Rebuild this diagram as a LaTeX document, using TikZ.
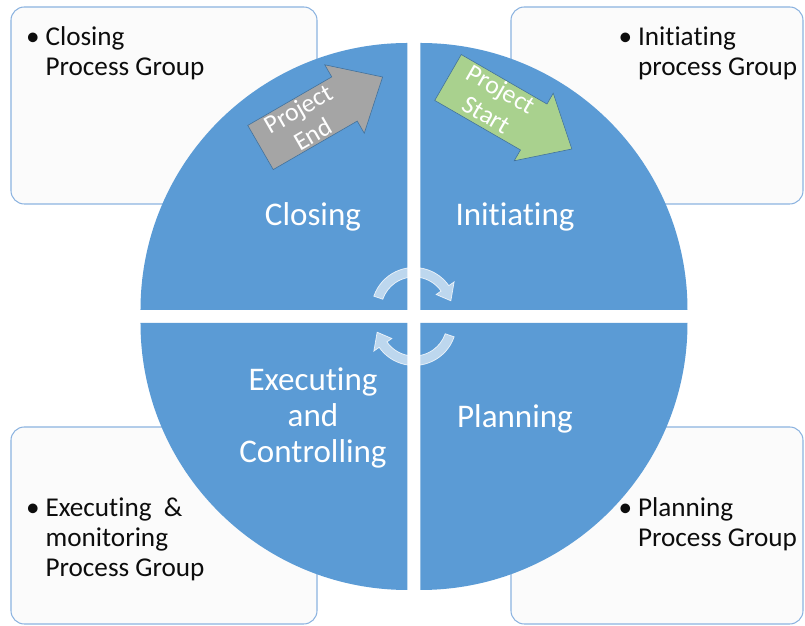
\documentclass[tikz,border=0pt]{standalone}
\usepackage{fontspec}
\setmainfont{Carlito}[Ligatures={NoCommon}]
\usepackage{xcolor}
\definecolor{phaseblue}{HTML}{5B9BD5}
\definecolor{boxline}{HTML}{8CB3E0}
\definecolor{boxfill}{HTML}{FBFBFB}
\definecolor{endgray}{HTML}{A5A5A5}
\definecolor{startgreen}{HTML}{A9D18E}
\definecolor{arrowline}{HTML}{41719C}
\definecolor{textblack}{HTML}{0D0D0D}

\tikzset{
  groupbox/.style={draw=boxline, fill=boxfill, line width=0.9pt, rounded corners=0.4cm, inner sep=0},
  grouptext/.style={anchor=base west, inner sep=0, text=textblack, font=\fontsize{23.2}{25.6}\selectfont},
  phase/.style={fill=phaseblue},
  phasetext/.style={align=center, inner sep=0, text=white, font=\fontsize{28.2}{30.7}\selectfont},
  milestone/.style={draw=arrowline, line width=0.5pt},
  milestonetext/.style={align=center, inner sep=0, text=white, transform shape, font=\fontsize{22}{25}\selectfont},
  cyclearrow/.style={fill=white, fill opacity=0.6, draw=white, draw opacity=0.8, line width=0.6pt}
}

\begin{document}
\begin{tikzpicture}[x=0.03cm, y=0.03cm]
    \useasboundingbox (-414,-309.5) rectangle (391,316.5);

    % process group boxes behind the wheel
    \node[groupbox, minimum width=9.18cm, minimum height=5.91cm] (closingbox) at (-250,211) {};
    \node[groupbox, minimum width=8.76cm, minimum height=5.91cm] (initbox) at (243,211) {};
    \node[groupbox, minimum width=9.18cm, minimum height=5.91cm] (execbox) at (-250,-209) {};
    \node[groupbox, minimum width=8.76cm, minimum height=5.91cm] (planbox) at (243,-209) {};

    \node[grouptext] (closinggroup) at (-388,270.5) {\begin{tabular}[t]{@{}p{16.5pt}@{}l@{}}\textbullet & Closing\\ & Process Group\end{tabular}};
    \node[grouptext] (initgroup) at (204.5,270.5) {\begin{tabular}[t]{@{}p{16.5pt}@{}l@{}}\textbullet & Initiating\\ & process Group\end{tabular}};
    \node[grouptext] (execgroup) at (-388,-200) {\begin{tabular}[t]{@{}p{16.5pt}@{}l@{}}\textbullet & Executing~~\&\\ & monitoring\\ & Process Group\end{tabular}};
    \node[grouptext] (plangroup) at (204.5,-200) {\begin{tabular}[t]{@{}p{16.5pt}@{}l@{}}\textbullet & Planning\\ & Process Group\end{tabular}};

    % the four quarters of the wheel
    \foreach \sx/\sy/\a in {1/1/0, -1/1/90, -1/-1/180, 1/-1/270}
        \fill[phase] (6.5*\sx,6.5*\sy) -- ++(\a:267) arc[start angle=\a, end angle=\a+90, radius=267] -- cycle;

    \node[phasetext] (closing) at (-101,99.5) {Closing};
    \node[phasetext] (initiating) at (101,99.5) {Initiating};
    \node[phasetext] (planning) at (101,-102.5) {Planning};
    \node[phasetext] (executing) at (-101,-101.5) {Executing\\and\\Controlling};

    % milestone arrows
    \begin{scope}[shift={(-153.5,169)}, rotate=30]
        \draw[milestone, fill=endgray] (0,-25.5) -- (97,-25.5) -- (97,-39.5) -- (141,0) -- (97,39.5) -- (97,25.5) -- (0,25.5) -- cycle;
        \node[milestonetext] (projectend) at (52,0) {Project\\End};
    \end{scope}
    \begin{scope}[shift={(34,239)}, rotate=-30]
        \draw[milestone, fill=startgreen] (0,-26.5) -- (99,-26.5) -- (99,-39) -- (143,0) -- (99,39) -- (99,26.5) -- (0,26.5) -- cycle;
        \node[milestonetext] (projectstart) at (52,2) {Project\\Start};
    \end{scope}

    % cycle arrows in the middle
    \foreach \turn in {0,180}
        \draw[cyclearrow, rotate=\turn, shift={(0,6.5)}] (161:42.5) arc[start angle=161, end angle=35, radius=42.5]
            -- (35:49) -- (14:38) -- (35:27) -- (35:33) arc[start angle=35, end angle=161, radius=33] -- cycle;
\end{tikzpicture}
\end{document}
